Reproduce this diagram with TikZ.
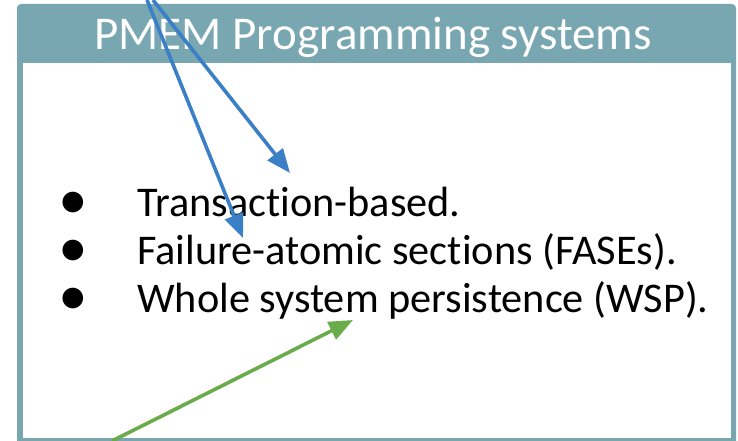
\documentclass[tikz,border=0pt]{standalone}
\usepackage{fontspec}
\setmainfont[Ligatures={NoCommon,NoRare,NoContextual}]{Carlito}
\newfontfamily\symfont{DejaVu Sans}
\usetikzlibrary{arrows.meta}
\definecolor{teal1}{HTML}{78A6B1}
\definecolor{arrblue}{HTML}{3B80C6}
\definecolor{arrgreen}{HTML}{6AAB4A}
\tikzset{
  item/.style={anchor=base west, inner sep=0pt, font=\fontsize{42.3}{50}\selectfont},
  bul/.style={anchor=center, inner sep=0pt, font=\symfont\fontsize{27}{30}\selectfont},
  arr/.style={line width=3.6pt, -{Triangle[length=24pt,width=19pt]}},
}
\begin{document}
\begin{tikzpicture}[x=1pt,y=-1pt]
\useasboundingbox (0,0) rectangle (738,441);
\begin{scope}
\clip (0,0) rectangle (738,441);
\fill[teal1, rounded corners=4pt] (17,4) rectangle (736,460);
\fill[white] (23,63) rectangle (731,438);
\end{scope}
\node[anchor=base, inner sep=0pt, text=white, font=\fontsize{47}{56}\selectfont] (title) at (373,50) {PMEM Programming systems};
\node[item] (i1) at (137,216) {Transaction-based.};
\node[item] (i2) at (137,264) {Failure-atomic sections (FASEs).};
\node[item] (i3) at (137,312) {Whole system persistence (WSP).};
\node[bul] (b1) at (73,203) {●};
\node[bul] (b2) at (73,251) {●};
\node[bul] (b3) at (73,299) {●};
\coordinate (s1) at (153,0);
\coordinate (t1) at (290,173);
\coordinate (s2) at (147,0);
\coordinate (t2) at (243,238);
\coordinate (s3) at (112,441);
\coordinate (t3) at (353,320);
\draw[arr, arrblue] (s1) -- (t1);
\draw[arr, arrblue] (s2) -- (t2);
\draw[arr, arrgreen] (s3) -- (t3);
\end{tikzpicture}
\end{document}
